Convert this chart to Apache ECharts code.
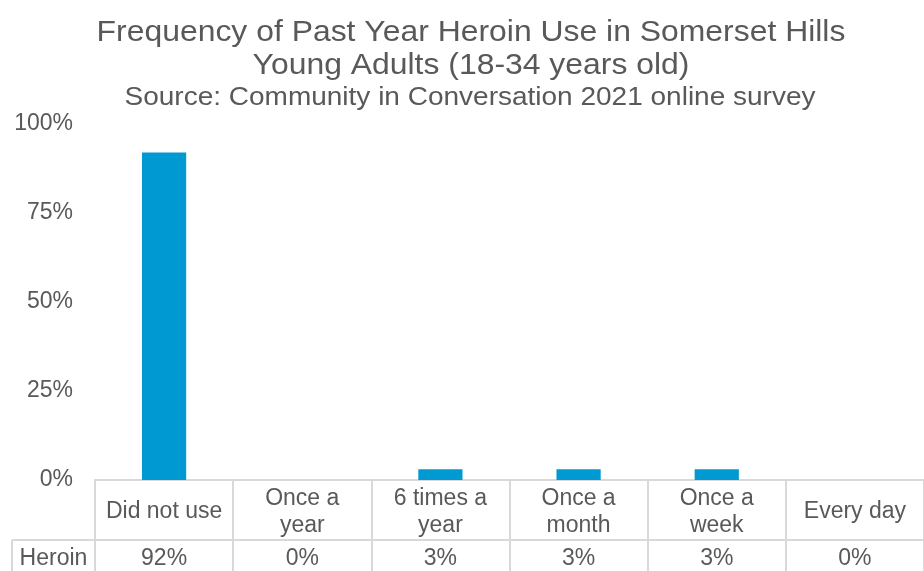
<!DOCTYPE html>
<html>
<head>
<meta charset="utf-8">
<script src="https://cdn.jsdelivr.net/npm/echarts@6/dist/echarts.min.js"></script>
<style>
  html, body { margin: 0; padding: 0; background: #fff; }
  #chart { width: 924px; height: 571px; }
</style>
</head>
<body>
<div id="chart"></div>
<script>
// Past-year heroin use frequency, young adults 18-34
const categories = ['Did not use', 'Once a\nyear', '6 times a\nyear', 'Once a\nmonth', 'Once a\nweek', 'Every day'];
const heroinValues = [92, 0, 3, 3, 3, 0];
const seriesName = 'Heroin';
const yTicks = [0, 25, 50, 75, 100];
const titleLines = ['Frequency of Past Year Heroin Use in Somerset Hills', 'Young Adults (18-34 years old)'];
const subtitle = 'Source: Community in Conversation 2021 online survey';

const textColor = '#595959';
const lineColor = '#D9D9D9';
const font = 'Liberation Sans, Arial, sans-serif';

const chart = echarts.init(document.getElementById('chart'), null, { renderer: 'canvas' });

const H = 571;
const gridLeft = 95, gridTop = 124, gridBottom = 91, gridWidth = 831;
const tableRow1 = 60, tableRow2 = 31;
const axisY = H - gridBottom;

chart.setOption({
  animation: false,
  backgroundColor: '#fff',
  grid: { left: gridLeft, top: gridTop, bottom: gridBottom, width: gridWidth, containLabel: false },
  xAxis: [
    {
      type: 'category',
      data: categories,
      position: 'bottom',
      axisLine: { show: true, lineStyle: { color: lineColor, width: 2 } },
      axisTick: { show: true, length: tableRow1, interval: 0, lineStyle: { color: lineColor, width: 2 } },
      axisLabel: {
        interval: 0, margin: 32, fontFamily: font, fontSize: 23, color: textColor,
        lineHeight: 27, align: 'center', verticalAlign: 'middle'
      },
      splitLine: { show: false }
    },
    {
      type: 'category',
      data: heroinValues.map(v => v + '%'),
      position: 'bottom',
      offset: tableRow1,
      axisLine: { show: true, lineStyle: { color: lineColor, width: 2 } },
      axisTick: { show: true, length: tableRow2, interval: 0, lineStyle: { color: lineColor, width: 2 } },
      axisLabel: {
        interval: 0, margin: 19, fontFamily: font, fontSize: 23, color: textColor,
        verticalAlign: 'middle'
      },
      splitLine: { show: false }
    }
  ],
  yAxis: {
    type: 'value',
    min: yTicks[0],
    max: yTicks[yTicks.length - 1],
    interval: 25,
    axisLine: { show: false },
    axisTick: { show: false },
    splitLine: { show: false },
    axisLabel: { margin: 22, fontFamily: font, fontSize: 23, color: textColor, formatter: '{value}%' }
  },
  series: [
    {
      name: seriesName,
      type: 'bar',
      data: heroinValues,
      xAxisIndex: 0,
      barWidth: '32%',
      itemStyle: { color: '#0099D2' }
    }
  ],
  graphic: [
    // chart title and source line
    {
      type: 'text', x: 471, y: 33, scaleX: 1.1,
      style: { text: titleLines[0], fontFamily: font, fontSize: 29, fill: textColor, textAlign: 'center', textVerticalAlign: 'middle' }
    },
    {
      type: 'text', x: 471, y: 66, scaleX: 1.1,
      style: { text: titleLines[1], fontFamily: font, fontSize: 29, fill: textColor, textAlign: 'center', textVerticalAlign: 'middle' }
    },
    {
      type: 'text', x: 470, y: 98, scaleX: 1.12,
      style: { text: subtitle, fontFamily: font, fontSize: 25, fill: textColor, textAlign: 'center', textVerticalAlign: 'middle' }
    },
    // row header cell of the data table
    {
      type: 'line',
      shape: { x1: 12, y1: axisY + tableRow1, x2: gridLeft, y2: axisY + tableRow1 },
      style: { stroke: lineColor, lineWidth: 2 }
    },
    {
      type: 'line',
      shape: { x1: 12, y1: axisY + tableRow1, x2: 12, y2: H },
      style: { stroke: lineColor, lineWidth: 2 }
    },
    {
      type: 'text',
      x: (12 + gridLeft) / 2, y: axisY + tableRow1 + 19,
      style: { text: seriesName, fontFamily: font, fontSize: 23, fill: textColor, textAlign: 'center', textVerticalAlign: 'middle' }
    }
  ]
});
</script>
</body>
</html>
